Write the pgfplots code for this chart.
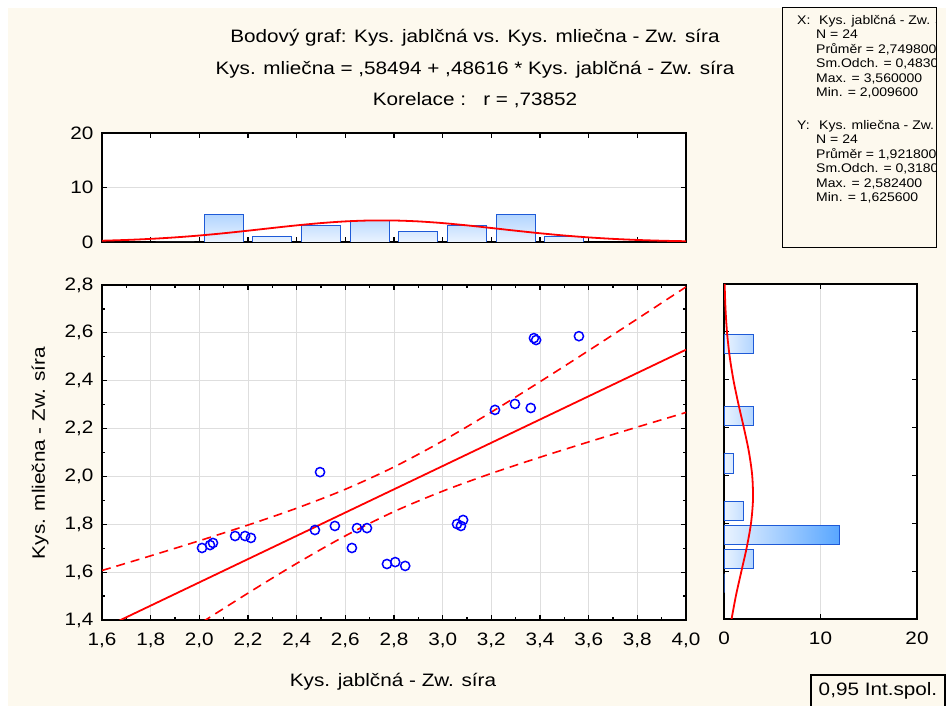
\documentclass[border=0pt]{standalone}
\usepackage{fontspec}
\setmainfont{Liberation Sans}[FakeStretch=1.15]
\newfontfamily\statsfont{Liberation Sans}[FakeStretch=1.12]
\usepackage{pgfplots}
\pgfplotsset{compat=1.18}

\definecolor{cream}{RGB}{253,249,238}
\definecolor{barblue}{RGB}{30,90,215}
\definecolor{gridgray}{RGB}{222,222,222}
\definecolor{barlight}{RGB}{234,243,255}
\definecolor{barmid}{RGB}{178,213,255}
\definecolor{bardark}{RGB}{88,166,255}

\pgfplotsset{
  statframe/.style={
    scale only axis,
    axis background/.style={fill=white},
    axis line style={line width=1.5pt},
    tick align=inside,
    major tick length=5pt,
    minor tick length=3pt,
    every tick/.style={black, line width=1.2pt},
    major grid style={gridgray, line width=0.9pt},
    tick label style={font=\fontsize{18}{20}\selectfont},
    xticklabel style={yshift=-9pt},
    yticklabel style={xshift=-5pt},
    /pgf/number format/assume math mode=true,
  },
  commaticks/.style={
    /pgf/number format/.cd, fixed, fixed zerofill, precision=1, use comma,
  },
}

\begin{document}
\begin{tikzpicture}[x=1pt,y=1pt]
\useasboundingbox (0,0) rectangle (946,706);
\fill[white] (0,0) rectangle (946,706);
\fill[cream] (8,0) rectangle (946,698);

% titles
\node[font=\fontsize{18}{20}\selectfont] at (475,668) {Bodový graf: Kys. jablčná vs. Kys. mliečna - Zw. síra};
\node[font=\fontsize{18}{20}\selectfont] at (475,636) {Kys. mliečna = ,58494 + ,48616 * Kys. jablčná - Zw. síra};
\node[font=\fontsize{18}{20}\selectfont] at (475,606) {Korelace :\ \ \ r = ,73852};

% scatter plot with regression line and 0.95 confidence band
\begin{axis}[statframe,
  at={(102pt,86pt)}, anchor=south west,
  width=584pt, height=335pt,
  xmin=1.6, xmax=4.0, ymin=1.4, ymax=2.8,
  xtick={1.6,1.8,2.0,2.2,2.4,2.6,2.8,3.0,3.2,3.4,3.6,3.8,4.0},
  ytick={1.4,1.6,1.8,2.0,2.2,2.4,2.6,2.8},
  minor tick num=1,
  grid=major,
  xticklabel style={commaticks},
  yticklabel style={commaticks},
]
\addplot[red, line width=1.8pt] coordinates {(1.6,1.36280) (4.0,2.52958)};
\addplot[red, line width=1.6pt, dash pattern=on 9pt off 6pt, smooth] coordinates {
  (1.6,1.6068) (1.8,1.6682) (2.0,1.7312) (2.2,1.7968) (2.4,1.8672) (2.6,1.9463)
  (2.8,2.0395) (3.0,2.1484) (3.2,2.2688) (3.4,2.3957) (3.6,2.5260) (3.8,2.6584) (4.0,2.7919)};
\addplot[red, line width=1.6pt, dash pattern=on 9pt off 6pt, smooth] coordinates {
  (1.6,1.1188) (1.8,1.2518) (2.0,1.3833) (2.2,1.5122) (2.4,1.6363) (2.6,1.7516)
  (2.8,1.8529) (3.0,1.9384) (3.2,2.0125) (3.4,2.0801) (3.6,2.1442) (3.8,2.2063) (4.0,2.2673)};
\addplot[only marks, mark=o, mark size=4.6pt, mark options={blue, line width=1.5pt}] coordinates {
  (2.011,1.701) (2.044,1.713) (2.056,1.722) (2.147,1.751) (2.188,1.751) (2.212,1.743)
  (2.496,2.018) (2.475,1.776) (2.557,1.793) (2.627,1.701) (2.648,1.784) (2.689,1.784)
  (2.771,1.634) (2.805,1.642) (2.846,1.626) (3.059,1.801) (3.075,1.793) (3.084,1.818)
  (3.215,2.278) (3.297,2.303) (3.362,2.286) (3.375,2.578) (3.384,2.570) (3.560,2.586)};
\end{axis}

% histogram of x with normal curve
\begin{axis}[statframe,
  at={(102pt,464pt)}, anchor=south west,
  width=584pt, height=109pt,
  xmin=1.6, xmax=4.0, ymin=0, ymax=20,
  xtick={1.8,2.0,2.2,2.4,2.6,2.8,3.0,3.2,3.4,3.6,3.8},
  xticklabels={},
  ytick={0,10,20},
  ymajorgrids=true,
]
\addplot[ybar, bar width=0.16, draw=barblue, line width=0.9pt, bottom color=barlight, top color=barmid] coordinates {
  (1.9,0) (2.1,5) (2.3,1) (2.5,3) (2.7,4) (2.9,2) (3.1,3) (3.3,5) (3.5,1)};
\addplot[red, line width=1.8pt, smooth] coordinates {
  (1.6,0.2331) (1.7,0.3737) (1.8,0.5735) (1.9,0.8434) (2.0,1.1883) (2.1,1.6042)
  (2.2,2.0743) (2.3,2.5700) (2.4,3.0505) (2.5,3.4687) (2.6,3.7789) (2.7,3.9440)
  (2.8,3.9436) (2.9,3.7779) (3.0,3.4671) (3.1,3.0485) (3.2,2.5679) (3.3,2.0724)
  (3.4,1.6023) (3.5,1.1868) (3.6,0.8422) (3.7,0.5726) (3.8,0.3730) (3.9,0.2327) (4.0,0.1392)};
\end{axis}

% histogram of y with normal curve
\begin{axis}[statframe,
  at={(724pt,87pt)}, anchor=south west,
  width=193pt, height=335pt,
  xmin=0, xmax=20, ymin=1.4, ymax=2.8,
  xtick={0,10,20},
  ytick={1.6,1.8,2.0,2.2,2.4,2.6},
  yticklabels={},
  xmajorgrids=true,
]
\addplot[xbar, bar width=0.08, draw=barblue, line width=0.9pt, left color=barlight, right color=barmid] coordinates {
  (0,1.55) (3,1.65) (2,1.85) (1,2.05) (3,2.25) (3,2.55)};
\addplot[xbar, bar width=0.08, draw=barblue, line width=0.9pt, left color=barlight, right color=bardark] coordinates {
  (12,1.75)};
\addplot[red, line width=1.8pt, smooth] coordinates {
  (0.7835,1.4) (1.2493,1.5) (1.8045,1.6) (2.3609,1.7) (2.7980,1.8) (3.0039,1.9)
  (2.9213,2.0) (2.5735,2.1) (2.0537,2.2) (1.4845,2.3) (0.9720,2.4) (0.5765,2.5)
  (0.3098,2.6) (0.1507,2.7) (0.0665,2.8)};
\end{axis}

% axis titles
\node[font=\fontsize{18}{20}\selectfont] at (393,24) {Kys. jablčná - Zw. síra};
\node[font=\fontsize{18}{20}\selectfont, rotate=90] at (40,253) {Kys. mliečna - Zw. síra};

% summary statistics
\begin{scope}
\clip (782,458) rectangle (936,698);
\begin{scope}[every node/.style={anchor=base west, inner sep=0pt, font=\statsfont\fontsize{12.5}{14}\selectfont}]
\node at (797,681.5) {X:};
\node at (819,681.5) {Kys. jablčná - Zw. síra};
\node at (816,667.1) {N = 24};
\node at (816,652.7) {Průměr = 2,749800};
\node at (816,638.3) {Sm.Odch. = 0,483026};
\node at (816,623.9) {Max. = 3,560000};
\node at (816,609.5) {Min. = 2,009600};
\node at (797,576.5) {Y:};
\node at (819,576.5) {Kys. mliečna - Zw. síra};
\node at (816,562.1) {N = 24};
\node at (816,547.7) {Průměr = 1,921800};
\node at (816,533.3) {Sm.Odch. = 0,318016};
\node at (816,518.9) {Max. = 2,582400};
\node at (816,504.5) {Min. = 1,625600};
\end{scope}
\end{scope}
\draw[line width=1pt] (782,458) rectangle (936,698);

% confidence level box
\draw[line width=1.6pt] (811,-2) rectangle (945,31);
\node[font=\fontsize{18}{20}\selectfont] at (878,15) {0,95 Int.spol.};
\end{tikzpicture}
\end{document}
